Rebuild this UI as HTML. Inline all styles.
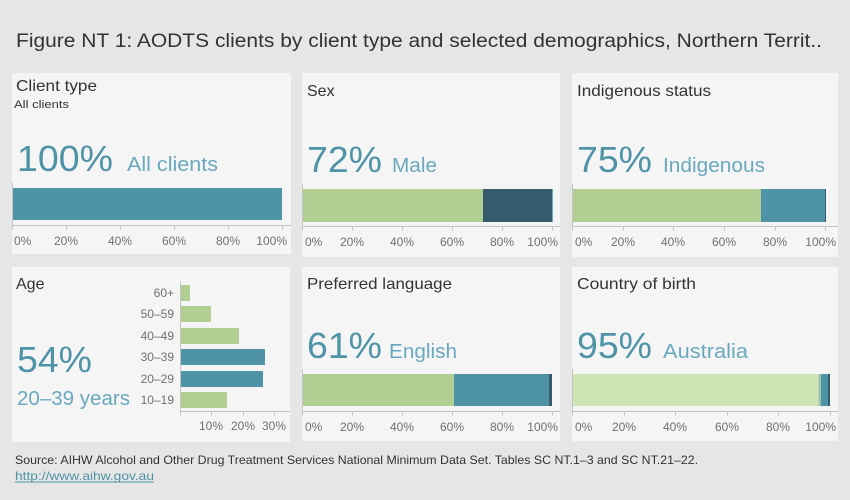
<!DOCTYPE html>
<html><head><meta charset="utf-8"><style>
html,body{margin:0;padding:0;background:#e6e6e6;}
svg{display:block;font-family:"Liberation Sans",sans-serif;}
.tl{font-size:12px;fill:#707070;}
.ht{font-size:16px;fill:#333;}
.big{font-size:36px;fill:#4e93a6;}
.lab{font-size:20px;fill:#6aa9bd;}
.ax{stroke:#c4c4c4;stroke-width:1;fill:none;}
</style></head><body>
<svg width="850" height="500" viewBox="0 0 850 500" xmlns="http://www.w3.org/2000/svg">
<rect width="850" height="500" fill="#e6e6e6"/>
<text x="16" y="47" font-size="19" fill="#333" textLength="806" lengthAdjust="spacingAndGlyphs">Figure NT 1: AODTS clients by client type and selected demographics, Northern Territ..</text>

<!-- Panels -->
<rect x="12" y="73" width="279" height="181" fill="#f5f5f5"/>
<rect x="302" y="73" width="258" height="184" fill="#f5f5f5"/>
<rect x="572" y="73" width="266" height="184" fill="#f5f5f5"/>
<rect x="12" y="267" width="278" height="175" fill="#f5f5f5"/>
<rect x="302" y="267" width="258" height="174" fill="#f5f5f5"/>
<rect x="572" y="267" width="266" height="174" fill="#f5f5f5"/>

<!-- Panel 1: Client type -->
<text x="16" y="91" class="ht" textLength="81" lengthAdjust="spacingAndGlyphs">Client type</text>
<text x="14" y="108" font-size="11" fill="#333" textLength="55" lengthAdjust="spacingAndGlyphs">All clients</text>
<text x="17" y="171" class="big" textLength="96" lengthAdjust="spacingAndGlyphs">100%</text>
<text x="127" y="171" class="lab" textLength="91" lengthAdjust="spacingAndGlyphs">All clients</text>
<rect x="12" y="188" width="270" height="32" fill="#4f93a7"/>
<path class="ax" d="M12.5 183V225.5H291M66.5 225.5v4M120.5 225.5v4M174.5 225.5v4M228.5 225.5v4M282.5 225.5v4M12.5 225.5v4"/>
<g class="tl">
<text x="14" y="245">0%</text>
<text x="66" y="245" text-anchor="middle">20%</text>
<text x="120" y="245" text-anchor="middle">40%</text>
<text x="174" y="245" text-anchor="middle">60%</text>
<text x="228" y="245" text-anchor="middle">80%</text>
<text x="287" y="245" text-anchor="end">100%</text>
</g>

<!-- Panel 2: Sex -->
<text x="307" y="96" class="ht">Sex</text>
<text x="307" y="172" class="big" textLength="75" lengthAdjust="spacingAndGlyphs">72%</text>
<text x="392" y="172" class="lab" textLength="45" lengthAdjust="spacingAndGlyphs">Male</text>
<rect x="302" y="189" width="181" height="33" fill="#b1cf93"/>
<rect x="483" y="189" width="69" height="33" fill="#355b6d"/>
<rect x="552" y="189" width="1" height="33" fill="#6aa9bd"/>
<path class="ax" d="M302.5 184V226.5H560M302.5 226.5v4M352.5 226.5v4M402.5 226.5v4M452.5 226.5v4M502.5 226.5v4M552.5 226.5v4"/>
<g class="tl">
<text x="305" y="246">0%</text>
<text x="352" y="246" text-anchor="middle">20%</text>
<text x="402" y="246" text-anchor="middle">40%</text>
<text x="452" y="246" text-anchor="middle">60%</text>
<text x="502" y="246" text-anchor="middle">80%</text>
<text x="558" y="246" text-anchor="end">100%</text>
</g>

<!-- Panel 3: Indigenous status -->
<text x="577" y="96" class="ht" textLength="134" lengthAdjust="spacingAndGlyphs">Indigenous status</text>
<text x="577" y="172" class="big" textLength="75" lengthAdjust="spacingAndGlyphs">75%</text>
<text x="663" y="172" class="lab" textLength="102" lengthAdjust="spacingAndGlyphs">Indigenous</text>
<rect x="572" y="189" width="189" height="33" fill="#b1cf93"/>
<rect x="761" y="189" width="64" height="33" fill="#4f93a7"/>
<rect x="825" y="189" width="1" height="33" fill="#355b6d"/>
<path class="ax" d="M572.5 184V226.5H838M572.5 226.5v4M623.5 226.5v4M673.5 226.5v4M724.5 226.5v4M775.5 226.5v4M825.5 226.5v4"/>
<g class="tl">
<text x="575" y="246">0%</text>
<text x="623" y="246" text-anchor="middle">20%</text>
<text x="673" y="246" text-anchor="middle">40%</text>
<text x="724" y="246" text-anchor="middle">60%</text>
<text x="775" y="246" text-anchor="middle">80%</text>
<text x="836" y="246" text-anchor="end">100%</text>
</g>

<!-- Panel 4: Age -->
<text x="16" y="289" class="ht">Age</text>
<text x="17" y="372" class="big" textLength="75" lengthAdjust="spacingAndGlyphs">54%</text>
<text x="17" y="405" class="lab" textLength="113" lengthAdjust="spacingAndGlyphs">20–39 years</text>
<rect x="180" y="285" width="10" height="16" fill="#b1cf93"/>
<rect x="180" y="306" width="31" height="16" fill="#b1cf93"/>
<rect x="180" y="328" width="59" height="16" fill="#b1cf93"/>
<rect x="180" y="349" width="85" height="16" fill="#4f93a7"/>
<rect x="180" y="371" width="83" height="16" fill="#4f93a7"/>
<rect x="180" y="392" width="47" height="16" fill="#b1cf93"/>
<path class="ax" d="M180.5 282V411.5H290M180.5 411.5v4M211.5 411.5v4M243.5 411.5v4M274.5 411.5v4"/>
<g class="tl" text-anchor="end" font-size="11.5">
<text x="174" y="297">60+</text>
<text x="174" y="318">50–59</text>
<text x="174" y="340">40–49</text>
<text x="174" y="361">30–39</text>
<text x="174" y="383">20–29</text>
<text x="174" y="404">10–19</text>
</g>
<g class="tl" text-anchor="middle">
<text x="211" y="430">10%</text>
<text x="243" y="430">20%</text>
<text x="274" y="430">30%</text>
</g>

<!-- Panel 5: Preferred language -->
<text x="307" y="289" class="ht" textLength="145" lengthAdjust="spacingAndGlyphs">Preferred language</text>
<text x="307" y="358" class="big" textLength="75" lengthAdjust="spacingAndGlyphs">61%</text>
<text x="389" y="358" class="lab" textLength="68" lengthAdjust="spacingAndGlyphs">English</text>
<rect x="302" y="374" width="152" height="32" fill="#b1cf93"/>
<rect x="454" y="374" width="95" height="32" fill="#4f93a7"/>
<rect x="549" y="374" width="3" height="32" fill="#355b6d"/>
<path class="ax" d="M302.5 369V411.5H560M302.5 411.5v4M352.5 411.5v4M402.5 411.5v4M452.5 411.5v4M502.5 411.5v4M552.5 411.5v4"/>
<g class="tl">
<text x="305" y="431">0%</text>
<text x="352" y="431" text-anchor="middle">20%</text>
<text x="402" y="431" text-anchor="middle">40%</text>
<text x="452" y="431" text-anchor="middle">60%</text>
<text x="502" y="431" text-anchor="middle">80%</text>
<text x="558" y="431" text-anchor="end">100%</text>
</g>

<!-- Panel 6: Country of birth -->
<text x="577" y="289" class="ht" textLength="119" lengthAdjust="spacingAndGlyphs">Country of birth</text>
<text x="577" y="358" class="big" textLength="75" lengthAdjust="spacingAndGlyphs">95%</text>
<text x="663" y="358" class="lab" textLength="85" lengthAdjust="spacingAndGlyphs">Australia</text>
<rect x="572" y="374" width="246.5" height="32" fill="#cde4b5"/>
<rect x="818.5" y="374" width="2.5" height="32" fill="#9cc6b0"/>
<rect x="821" y="374" width="7" height="32" fill="#4f93a7"/>
<rect x="828" y="374" width="2" height="32" fill="#355b6d"/>
<path class="ax" d="M572.5 369V411.5H838M572.5 411.5v4M624.5 411.5v4M675.5 411.5v4M727.5 411.5v4M778.5 411.5v4M830.5 411.5v4"/>
<g class="tl">
<text x="575" y="431">0%</text>
<text x="624" y="431" text-anchor="middle">20%</text>
<text x="675" y="431" text-anchor="middle">40%</text>
<text x="727" y="431" text-anchor="middle">60%</text>
<text x="778" y="431" text-anchor="middle">80%</text>
<text x="836" y="431" text-anchor="end">100%</text>
</g>

<!-- Footer -->
<text x="15" y="464" font-size="12" fill="#333" textLength="683" lengthAdjust="spacingAndGlyphs">Source: AIHW Alcohol and Other Drug Treatment Services National Minimum Data Set. Tables SC NT.1–3 and SC NT.21–22.</text>
<text x="15" y="480" font-size="12" fill="#4e93a6" textLength="139" lengthAdjust="spacingAndGlyphs">http://www.aihw.gov.au</text>
<line x1="15" y1="482" x2="154" y2="482" stroke="#4e93a6" stroke-width="1"/>
</svg>
</body></html>
